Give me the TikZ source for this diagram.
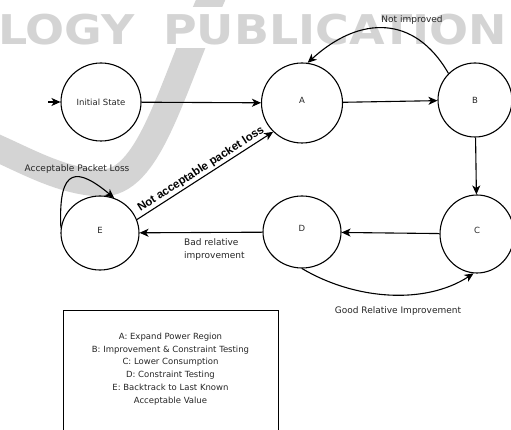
\documentclass[tikz,border=0pt]{standalone}
\usepackage{fontspec}
\setmainfont{DejaVu Sans}
\newfontfamily\boldsans{Liberation Sans}
\usetikzlibrary{arrows.meta,shapes.geometric}
\begin{document}
\begin{tikzpicture}[x=1pt,y=-1pt,
  st/.style={ellipse, draw, line width=1.1pt, inner sep=0pt, font=\fontsize{8.5}{10}\selectfont, text=black!85},
  arr/.style={line width=1.1pt, -{Stealth[length=9pt,width=8pt,inset=2.5pt]}},
  lbl/.style={font=\fontsize{9}{13}\selectfont, text=black!85, inner sep=0pt},
  wm/.style={color=black!17}]
\useasboundingbox (0,0) rectangle (511,430);
% watermark
\begin{scope}
\clip (0,0) rectangle (511,430);
\draw[wm, line width=27pt] (215,-10) .. controls (170,90) and (150,185) .. (100,183) .. controls (60,181) and (25,160) .. (-10,145);
\fill[white] (140,7) rectangle (250,48);
\node[wm, text=black!17, anchor=base west, inner sep=0pt, xscale=1.12, font=\fontsize{41}{41}\selectfont\bfseries] (wm1) at (-2,45) {LOGY};
\node[wm, text=black!17, anchor=base west, inner sep=0pt, xscale=1.12, font=\fontsize{41}{41}\selectfont\bfseries] (wm2) at (163,45) {PUBLICATION};
\end{scope}
% states
\node[st, minimum width=80pt, minimum height=78pt] (init) at (101,102) {Initial State};
\node[st, minimum width=81pt, minimum height=80pt] (A) at (302,103) {\raisebox{6pt}{A}};
\node[st, minimum width=74pt, minimum height=74pt] (B) at (475,100) {B};
\node[st, minimum width=74pt, minimum height=78pt] (C) at (477,234) {\raisebox{8pt}{C}};
\node[st, minimum width=78pt, minimum height=72pt] (D) at (302,232) {\raisebox{8pt}{D}};
\node[st, minimum width=78pt, minimum height=74pt] (E) at (100,233) {\raisebox{6pt}{E}};
\coordinate (start) at (48,102);
% edges
\draw[arr] (start) -- (init);
\draw[arr] (init) -- (A);
\draw[arr] (A) -- (B);
\draw[arr] (B.135) .. controls (415,15) and (360,15) .. (A.82);
\node[lbl] (notimp) at (412,20) {Not improved};
\draw[arr] (B) -- (C);
\draw[arr] (C) -- (D);
\draw[arr] (D) -- (E);
\node[lbl, align=left, anchor=north west] (bad) at (184,238) {Bad relative\\improvement};
\draw[arr] (D.south) .. controls (355,300) and (425,305) .. (C.265);
\node[lbl] (good) at (398,311) {Good Relative Improvement};
\draw[arr] (E.20) -- (A.225) node[sloped, above, midway, inner sep=1.5pt, font=\boldsans\bfseries\fontsize{11.5}{12}\selectfont] (nap) {Not acceptable packet loss};
\draw[arr] (E.172) .. controls (58,165) and (78,168) .. (E.68);
\node[lbl] (accept) at (77,169) {Acceptable Packet Loss};
% legend
\node[draw, line width=1pt, minimum width=215pt, minimum height=134pt, inner sep=0pt] (legendbox) at (170.5,377) {};
\node[lbl, align=center, font=\fontsize{8.5}{12.8}\selectfont] (legendtext) at (170.5,369) {A: Expand Power Region\\B: Improvement \& Constraint Testing\\C: Lower Consumption\\D: Constraint Testing\\E: Backtrack to Last Known\\Acceptable Value};
\end{tikzpicture}
\end{document}
